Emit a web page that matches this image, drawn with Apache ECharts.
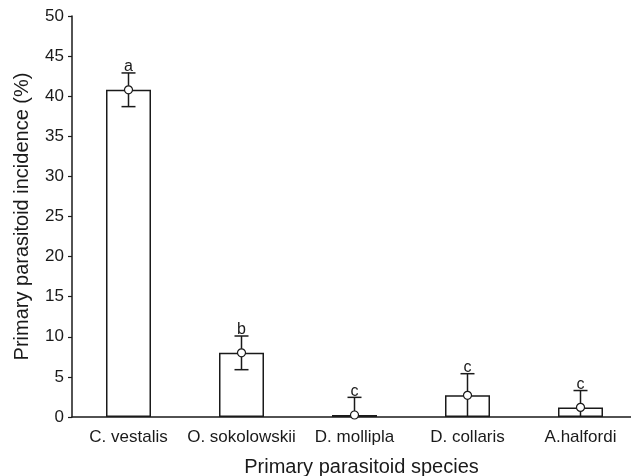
<!DOCTYPE html>
<html><head><meta charset="utf-8">
<script src="https://cdn.jsdelivr.net/npm/echarts@6/dist/echarts.min.js"></script>
<style>html,body{margin:0;padding:0;background:#fff}#c{width:631px;height:476px}</style>
</head><body><div id="c"></div>
<script>
const categories = ['C. vestalis', 'O. sokolowskii', 'D. mollipla', 'D. collaris', 'A.halfordi'];
const means = [40.8, 8.0, 0.25, 2.7, 1.2];
const errors = [2.1, 2.1, 2.2, 2.7, 2.1];
const letters = ['a', 'b', 'c', 'c', 'c'];

const chart = echarts.init(document.getElementById('c'), null, {renderer: 'canvas'});
const ink = '#1a1a1a';
const font = 'Liberation Sans, Arial, sans-serif';

chart.setOption({
  animation: false,
  backgroundColor: '#fff',
  grid: {left: 72, top: 16, width: 565, height: 401, containLabel: false, outerBoundsMode: 'none'},
  xAxis: {
    type: 'category', data: categories,
    axisLine: {lineStyle: {color: ink, width: 1.5}},
    axisTick: {alignWithLabel: true, length: 4, lineStyle: {color: ink, width: 1.2}},
    axisLabel: {color: ink, fontSize: 17, fontFamily: font, margin: 12, interval: 0},
    name: 'Primary parasitoid species', nameLocation: 'middle', nameGap: 40,
    nameTextStyle: {color: ink, fontSize: 20, fontFamily: font, padding: [0, 0, 0, 14]}
  },
  yAxis: {
    type: 'value', min: 0, max: 50, interval: 5,
    axisLine: {show: true, lineStyle: {color: ink, width: 1.5}},
    axisTick: {show: true, length: 4, lineStyle: {color: ink, width: 1.2}},
    axisLabel: {color: ink, fontSize: 17, fontFamily: font, margin: 8},
    splitLine: {show: false},
    name: 'Primary parasitoid incidence (%)', nameLocation: 'middle', nameGap: 40,
    nameTextStyle: {color: ink, fontSize: 20, fontFamily: font}
  },
  series: [
    {
      type: 'bar', data: means, barWidth: 45,
      itemStyle: {color: '#fff', borderColor: ink, borderWidth: 1.5}
    },
    {
      type: 'custom',
      data: categories.map((c, i) => [i, means[i], errors[i], letters[i]]),
      renderItem: function (params, api) {
        const i = api.value(0), m = api.value(1), e = api.value(2);
        const top = api.coord([i, m + e]);
        const bot = api.coord([i, Math.max(0, m - e)]);
        const cap = 7;
        const children = [
          {type: 'line', shape: {x1: top[0], y1: top[1], x2: bot[0], y2: bot[1]}, style: {stroke: ink, lineWidth: 1.5}},
          {type: 'line', shape: {x1: top[0] - cap, y1: top[1], x2: top[0] + cap, y2: top[1]}, style: {stroke: ink, lineWidth: 1.5}}
        ];
        if (m - e > 0) {
          children.push({type: 'line', shape: {x1: bot[0] - cap, y1: bot[1], x2: bot[0] + cap, y2: bot[1]}, style: {stroke: ink, lineWidth: 1.5}});
        }
        children.push({type: 'text', style: {text: letters[i], x: top[0], y: top[1] + 2, align: 'center', verticalAlign: 'bottom', fill: ink, fontSize: 16, fontFamily: font}});
        return {type: 'group', children: children};
      },
      z: 3
    },
    {
      type: 'scatter', data: means, symbol: 'circle', symbolSize: 8,
      itemStyle: {color: '#fff', opacity: 1, borderColor: ink, borderWidth: 1.2}, z: 4
    }
  ]
});
</script></body></html>
